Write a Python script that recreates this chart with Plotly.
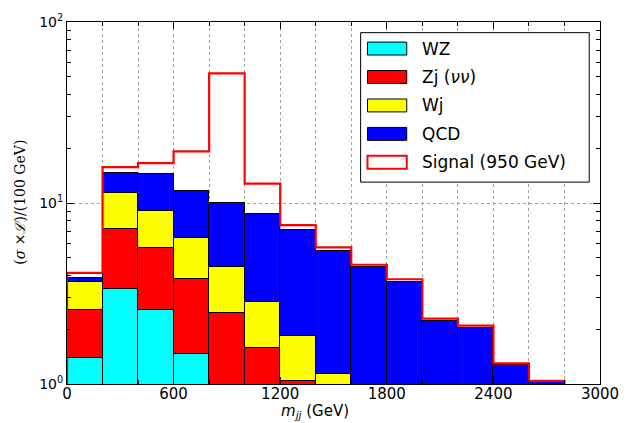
import numpy as np
import plotly.graph_objects as go

# ---- data (per-bin contributions, 200 GeV bins from 0 to 3000) ----
bin_edges = [0, 200, 400, 600, 800, 1000, 1200, 1400, 1600, 1800, 2000, 2200, 2400, 2600, 2800, 3000]
wz     = [1.40, 3.36, 2.55, 1.46, 0.75, 0.45, 0.25, 0.12, 0.06, 0.03, 0.02, 0.01, 0.01, 0.005, 0]
zj     = [1.15, 3.81, 3.09, 2.35, 1.73, 1.14, 0.79, 0.38, 0.24, 0.12, 0.08, 0.04, 0.02, 0.015, 0]
wj     = [1.13, 4.13, 3.40, 2.59, 1.93, 1.24, 0.80, 0.63, 0.40, 0.25, 0.10, 0.05, 0.02, 0.01, 0]
qcd    = [0.18, 3.40, 5.46, 5.20, 5.59, 5.84, 5.24, 4.32, 3.71, 3.25, 2.03, 1.95, 1.22, 0.99, 0]
signal = [0.25, 1.10, 2.10, 7.70, 42.0, 4.13, 0.46, 0.23, 0.15, 0.14, 0.07, 0.05, 0.03, 0.02, 0]
x_ticks = [0, 600, 1200, 1800, 2400, 3000]
y_ticks = [1, 10, 100]
y_ticktext = ["10<sup>0</sup>", "10<sup>1</sup>", "10<sup>2</sup>"]
y_minor = [2, 3, 4, 5, 6, 7, 8, 9, 20, 30, 40, 50, 60, 70, 80, 90]

series = [("WZ", wz, "#00FFFF"), ("Zj (<i>νν</i>)", zj, "#FF0000"),
          ("Wj", wj, "#FFFF00"), ("QCD", qcd, "#0000FF")]

edges = np.array(bin_edges, dtype=float)
centers = 0.5 * (edges[:-1] + edges[1:])
widths = np.diff(edges)

fig = go.Figure()
for name, vals, col in series:
    fig.add_trace(go.Bar(x=centers, y=vals, width=widths, name=name,
                         marker=dict(color=col, line=dict(color="black", width=1)),
                         showlegend=False))

total = np.array(wz) + np.array(zj) + np.array(wj) + np.array(qcd) + np.array(signal)
nz = np.nonzero(total > 0)[0]
last = nz[-1]
ymin = 0.3
sx = [edges[0]] + list(edges[:last + 1]) + [edges[last + 1], edges[last + 1]]
sy = [ymin] + list(total[:last + 1]) + [total[last], ymin]
fig.add_trace(go.Scatter(x=sx, y=sy, mode="lines", line=dict(color="#FF0000", width=2.2, shape="hv"),
                         showlegend=False, hoverinfo="skip"))

# ---- custom legend (paper coords) ----
L, R, T, B = 66.7, 610.0, 20.0, 384.0
W, H = R - L, B - T
px = lambda x: (x - L) / W
py = lambda y: (B - y) / H
shapes = [dict(type="rect", xref="paper", yref="paper", x0=px(366), x1=px(599), y0=py(181), y1=py(30.7),
               line=dict(color="black", width=1), fillcolor="white", layer="above")]
annotations = []
legend_items = [(n, c, "black") for n, _, c in series] + [("Signal (950 GeV)", "white", "#FF0000")]
for i, (name, fill, edge) in enumerate(legend_items):
    cy = 46.7 + i * 28.6
    shapes.append(dict(type="rect", xref="paper", yref="paper", x0=px(373), x1=px(413),
                       y0=py(cy + 6.5), y1=py(cy - 6.5), fillcolor=fill,
                       line=dict(color=edge, width=1 if edge == "black" else 2), layer="above"))
    annotations.append(dict(x=px(427), y=py(cy), xref="paper", yref="paper", text=name, showarrow=False,
                            xanchor="left", yanchor="middle",
                            font=dict(family="DejaVu Sans", size=17, color="black")))

annotations.append(dict(x=px(18), y=py(201.5), xref="paper", yref="paper", textangle=-90,
                        text="(<i>σ</i> ×<i>ℒ</i>)/(100 GeV)", showarrow=False,
                        xanchor="center", yanchor="middle",
                        font=dict(family="DejaVu Serif", size=14, color="black")))
annotations.append(dict(x=px(320), y=py(412), xref="paper", yref="paper",
                        text="<i>m</i><sub><i>jj</i></sub> (GeV)", showarrow=False,
                        xanchor="center", yanchor="middle",
                        font=dict(family="DejaVu Sans", size=15, color="black")))

fig.update_layout(
    width=631, height=423, margin=dict(l=L, r=631 - R, t=T, b=423 - B),
    paper_bgcolor="white", plot_bgcolor="white", barmode="stack", bargap=0,
    shapes=shapes, annotations=annotations, showlegend=False,
    xaxis=dict(range=[0, 3000], tickvals=x_ticks, ticks="inside", ticklen=7, tickcolor="black",
               showline=True, linecolor="black", linewidth=1, mirror="ticks", ticklabelstandoff=-4,
               showgrid=True, gridcolor="#A0A0A0", griddash="dot", gridwidth=1, zeroline=False,
               tickfont=dict(family="DejaVu Sans", size=15, color="black"),
               minor=dict(dtick=200, showgrid=True, gridcolor="#A0A0A0", griddash="dot",
                          ticks="inside", ticklen=4, tickcolor="black")),
    yaxis=dict(type="log", range=[0, 2], tickvals=y_ticks, ticktext=y_ticktext,
               ticks="inside", ticklen=7, tickcolor="black",
               showline=True, linecolor="black", linewidth=1, mirror="ticks",
               showgrid=True, gridcolor="#A0A0A0", griddash="dot", gridwidth=1, zeroline=False,
               tickfont=dict(family="DejaVu Sans", size=14, color="black"),
               minor=dict(tickmode="array", tickvals=y_minor, ticks="inside", ticklen=4,
                          tickcolor="black", showgrid=False)),
)

fig.write_html("out.html")
